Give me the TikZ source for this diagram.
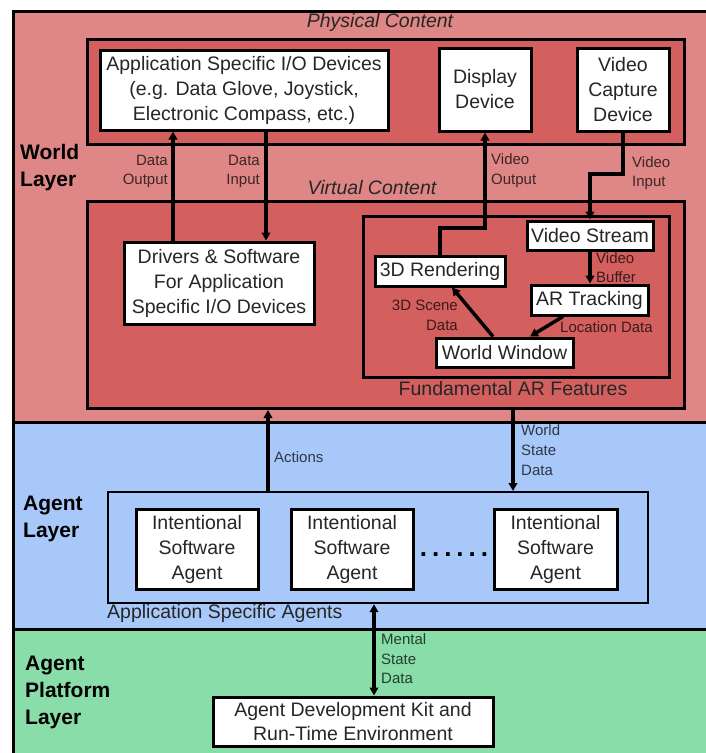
\documentclass[tikz,border=0pt]{standalone}
\usepackage{fontspec}
\setmainfont{Liberation Sans}
\usetikzlibrary{arrows.meta}

\definecolor{worldbg}{HTML}{DF8686}
\definecolor{worldin}{HTML}{D45F5F}
\definecolor{agentbg}{HTML}{A8C8FA}
\definecolor{platbg}{HTML}{88DDA8}

\begin{document}
\begin{tikzpicture}[x=1pt,y=-1pt,
  layer/.style={draw=black, line width=3pt, inner sep=0pt, anchor=north west},
  region/.style={draw=black, line width=3pt, fill=worldin, inner sep=0pt, anchor=north west},
  box/.style={draw=black, line width=3pt, fill=white, align=center, inner sep=0pt,
    font=\fontsize{19.5}{25}\selectfont, text=black!85},
  title/.style={font=\fontsize{19.5}{25}\selectfont, text=black!85, inner sep=0pt},
  layername/.style={font=\bfseries\fontsize{21}{27}\selectfont, align=left, anchor=west, inner sep=0pt},
  lbl/.style={font=\fontsize{15}{19.5}\selectfont, text=black, text opacity=0.72, inner sep=0pt},
  arr/.style={line width=3.5pt, -{Triangle[length=8pt,width=8.5pt]}},
  arrboth/.style={line width=3.5pt, {Triangle[length=8pt,width=8.5pt]}-{Triangle[length=8pt,width=8.5pt]}}
]
\useasboundingbox (0,0) rectangle (706,753);
\fill[white] (0,0) rectangle (706,753);

% layers
\node[layer, fill=worldbg, minimum width=700pt, minimum height=411pt] (world) at (12,10) {};
\node[layer, fill=agentbg, minimum width=700pt, minimum height=207pt] (agent) at (12,421) {};
\node[layer, fill=platbg, minimum width=700pt, minimum height=132pt] (platform) at (12,628) {};

\node[layername] (wname) at (20,168) {World\\Layer};
\node[layername] (aname) at (23,519) {Agent\\Layer};
\node[layername] (pname) at (25,692) {Agent\\Platform\\Layer};

% physical content
\node[title, font=\itshape\fontsize{19.5}{25}\selectfont] (physt) at (380,22) {Physical Content};
\node[region, minimum width=597pt, minimum height=105pt] (phys) at (86,38) {};
\node[box, minimum width=288pt, minimum height=80pt] (app) at (244,90)
  {Application Specific I/O Devices\\(e.g. Data Glove, Joystick,\\Electronic Compass, etc.)};
\node[box, minimum width=92pt, minimum height=83pt] (disp) at (485,89.5) {Display\\Device};
\node[box, minimum width=92pt, minimum height=83pt] (vcap) at (623,89.5) {Video\\Capture\\Device};

% virtual content
\node[title, font=\itshape\fontsize{19.5}{25}\selectfont] (virtt) at (372,188) {Virtual Content};
\node[region, minimum width=597pt, minimum height=207pt] (virt) at (86,200) {};
\node[box, minimum width=190pt, minimum height=82pt] (drv) at (219,283)
  {Drivers \& Software\\For Application\\Specific I/O Devices};
\node[region, minimum width=306pt, minimum height=161pt] (far) at (362,215) {};
\node[title] (fart) at (513,389) {Fundamental AR Features};
\node[box, minimum width=126pt, minimum height=29pt] (vstream) at (590,235.5) {Video Stream};
\node[box, minimum width=130pt, minimum height=30pt] (rend) at (440,271) {3D Rendering};
\node[box, minimum width=117pt, minimum height=30pt] (artr) at (589.5,300) {AR Tracking};
\node[box, minimum width=137pt, minimum height=29pt] (ww) at (504.5,352.5) {World Window};

% agents
\node[layer, fill=agentbg, line width=2.2pt, minimum width=540pt, minimum height=111pt] (asa) at (107,491) {};
\node[title, anchor=west] (asat) at (107,613) {Application Specific Agents};
\node[box, minimum width=122pt, minimum height=80pt] (ag1) at (197,549) {Intentional\\Software\\Agent};
\node[box, minimum width=122pt, minimum height=80pt] (ag2) at (352,549) {Intentional\\Software\\Agent};
\node[box, minimum width=123pt, minimum height=80pt] (ag3) at (555.5,549) {Intentional\\Software\\Agent};
\node[inner sep=0pt, font=\bfseries\fontsize{26}{26}\selectfont] (dots) at (454,555)
  {.\hspace{5pt}.\hspace{5pt}.\hspace{5pt}.\hspace{5pt}.\hspace{5pt}.};

% platform
\node[box, minimum width=280pt, minimum height=49pt, font=\fontsize{19.5}{24.5}\selectfont] (adk) at (353,721.5)
  {Agent Development Kit and\\Run-Time Environment};

% connector guides
\coordinate (xo) at (173,0);
\coordinate (xi) at (266,0);
\coordinate (yvo) at (0,228);
\coordinate (yvi) at (0,174);
\coordinate (sx1) at (493,0);
\coordinate (sx2) at (452,0);
\coordinate (lx1) at (563,0);
\coordinate (lx2) at (530,0);
\coordinate (wx) at (513,0);
\coordinate (ax) at (268,0);
\coordinate (mx) at (374,0);

% connectors
\draw[arr] (drv.north -| xo) -- (app.south -| xo);
\draw[arr] (app.south -| xi) -- (drv.north -| xi);
\draw[arr] (rend.north) -- (rend.north |- yvo) -- (disp.south |- yvo) -- (disp.south);
\draw[arr] (vcap.south) -- (vcap.south |- yvi) -- (vstream.north |- yvi) -- (vstream.north);
\draw[arr] (vstream.south) -- (vstream.south |- artr.north);
\draw[arr] (ww.north -| sx1) -- (rend.south -| sx2);
\draw[arr] (artr.south -| lx1) -- (ww.north -| lx2);
\draw[arr] (virt.south -| wx) -- (asa.north -| wx);
\draw[arr] (asa.north -| ax) -- (virt.south -| ax);
\draw[arrboth] (adk.north -| mx) -- (asa.south -| mx);

% connector labels
\node[lbl, align=right, anchor=east] (l1) at (168,171.5) {Data\\Output};
\node[lbl, align=right, anchor=east] (l2) at (260,171.5) {Data\\Input};
\node[lbl, align=left, anchor=west] (l3) at (491,170.5) {Video\\Output};
\node[lbl, align=left, anchor=west] (l4) at (632,173) {Video\\Input};
\node[lbl, align=left, anchor=west] (l5) at (596,267.5) {Video\\Buffer};
\node[lbl, align=right, anchor=east] (l6) at (458,315.5) {3D Scene\\Data};
\node[lbl, anchor=west] (l7) at (560,327) {Location Data};
\node[lbl, anchor=west] (l8) at (274,457) {Actions};
\node[lbl, align=left, anchor=west, font=\fontsize{15}{20}\selectfont] (l9) at (521,450) {World\\State\\Data};
\node[lbl, align=left, anchor=west, font=\fontsize{15}{19.5}\selectfont] (l10) at (381,659) {Mental\\State\\Data};
\end{tikzpicture}
\end{document}
